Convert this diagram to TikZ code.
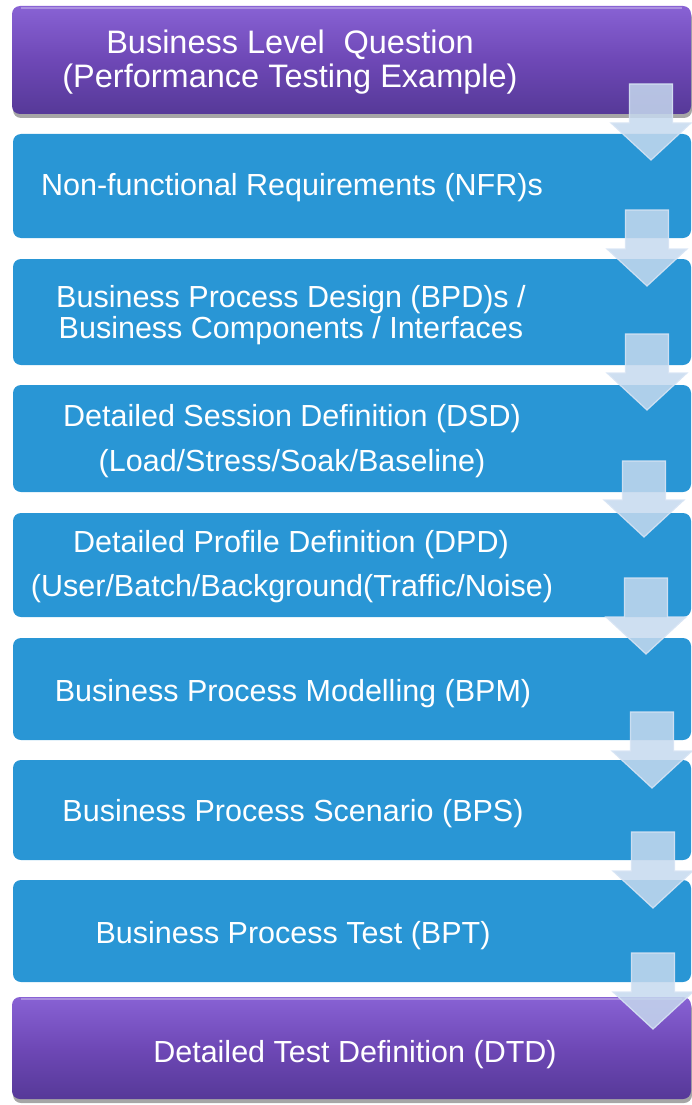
\documentclass[tikz,border=0pt]{standalone}
\usepackage{fontspec}
\setmainfont{Liberation Sans}
\usetikzlibrary{shadows,calc}
\definecolor{boxblue}{RGB}{41,150,213}
\definecolor{ptop}{RGB}{136,98,212}
\definecolor{pmid}{RGB}{110,72,182}
\definecolor{pbot}{RGB}{86,57,152}
\definecolor{arrowfill}{RGB}{198,217,238}
\definecolor{arrowedge}{RGB}{215,228,244}
\begin{document}
\begin{tikzpicture}[x=1pt,y=-1pt,
  bluebox/.style={fill=boxblue, rounded corners=8pt, inner sep=0pt, outer sep=0pt, anchor=north west, minimum width=678pt},
  purplebox/.style={rounded corners=8pt, inner sep=0pt, outer sep=0pt, anchor=north west, minimum width=679pt,
     top color=ptop, bottom color=pbot, middle color=pmid,
     drop shadow={shadow xshift=1pt, shadow yshift=-4pt, opacity=0.35, fill=black}},
  gloss/.style={white, opacity=0.3, line width=2pt},
  lbl/.style={text=white, font=\fontsize{30.5}{36}\selectfont, anchor=base, inner sep=0pt},
  biglbl/.style={lbl, font=\fontsize{32.5}{38}\selectfont},
  blockarrow/.style={fill=arrowfill, fill opacity=0.85, draw=arrowedge, draw opacity=0.9, line width=1.2pt, line join=miter},
  downarr/.pic={\draw[blockarrow] (-21.5,0) -- (21.5,0) -- (21.5,39) -- (40,39) -- (0,76) -- (-40,39) -- (-21.5,39) -- cycle;}
]
\useasboundingbox (0,0) rectangle (692,1105);

% boxes
\node[purplebox, minimum height=108pt] (p1) at (12,6) {};
\draw[gloss] ($(p1.north west)+(9,2)$) -- ($(p1.north east)+(-9,2)$);
\node[bluebox, minimum height=104pt] (b1) at (13,134) {};
\node[bluebox, minimum height=106pt] (b2) at (13,259) {};
\node[bluebox, minimum height=107pt] (b3) at (13,385) {};
\node[bluebox, minimum height=104pt] (b4) at (13,513) {};
\node[bluebox, minimum height=102pt] (b5) at (13,638) {};
\node[bluebox, minimum height=100pt] (b6) at (13,760) {};
\node[bluebox, minimum height=102pt] (b7) at (13,880) {};
\node[purplebox, minimum height=102pt] (p2) at (12,997) {};
\draw[gloss] ($(p2.north west)+(9,2)$) -- ($(p2.north east)+(-9,2)$);

% texts
\node[biglbl] (t0a) at (290,54) {Business Level\hspace{0.3em} Question};
\node[biglbl] (t0b) at (290,88) {(Performance Testing Example)};
\node[lbl] (t1) at (292,195) {Non-functional Requirements (NFR)s};
\node[lbl] (t2a) at (291,307) {Business Process Design (BPD)s /};
\node[lbl] (t2b) at (291,338) {Business Components / Interfaces};
\node[lbl] (t3a) at (292,426) {Detailed Session Definition (DSD)};
\node[lbl] (t3b) at (292,471) {(Load/Stress/Soak/Baseline)};
\node[lbl] (t4a) at (291,552) {Detailed Profile Definition (DPD)};
\node[lbl] (t4b) at (292,596) {(User/Batch/Background(Traffic/Noise)};
\node[lbl] (t5) at (293,701) {Business Process Modelling (BPM)};
\node[lbl] (t6) at (293,821) {Business Process Scenario (BPS)};
\node[lbl] (t7) at (293,943) {Business Process Test (BPT)};
\node[lbl] (t8) at (355,1062) {Detailed Test Definition (DTD)};

% arrows
\pic at (651,84) {downarr};
\pic at (647,210) {downarr};
\pic at (647,334) {downarr};
\pic at (644,461) {downarr};
\pic at (646,578) {downarr};
\pic at (652,712) {downarr};
\pic at (653,832) {downarr};
\pic at (653,953) {downarr};
\end{tikzpicture}
\end{document}
